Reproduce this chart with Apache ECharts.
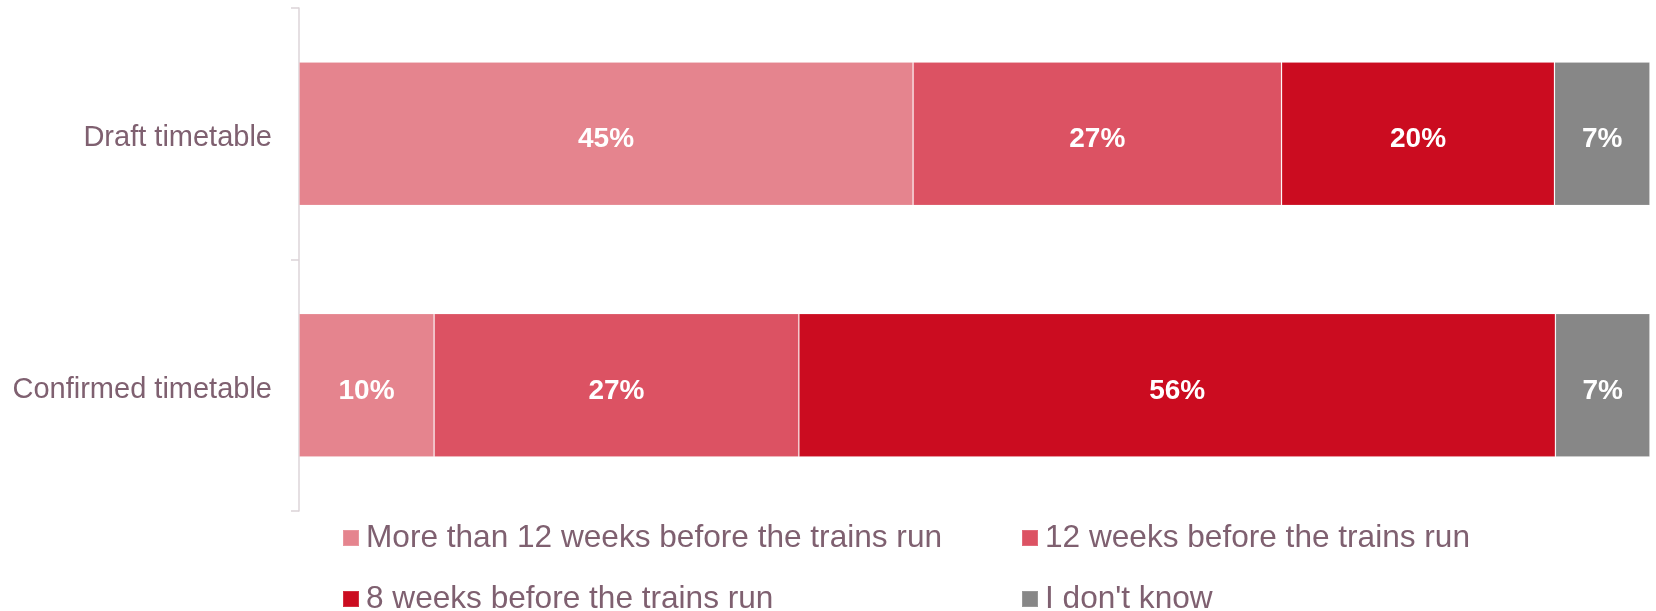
<!DOCTYPE html>
<html>
<head>
<meta charset="utf-8">
<title>Timetable notice</title>
<script src="https://cdn.jsdelivr.net/npm/echarts@6/dist/echarts.min.js"></script>
<style>
  html, body { margin: 0; padding: 0; background: #ffffff; }
  #chart { width: 1656px; height: 611px; }
</style>
</head>
<body>
<div id="chart"></div>
<script>
// Survey answers, per timetable type (percent of respondents)
const categories = ['Draft timetable', 'Confirmed timetable'];
const seriesNames = [
  'More than 12 weeks before the trains run',
  '12 weeks before the trains run',
  '8 weeks before the trains run',
  "I don't know"
];
const moreThan12Weeks = [45, 10];
const twelveWeeks = [27, 27];
const eightWeeks = [20, 56];
const dontKnow = [7, 7];

const seriesValues = [moreThan12Weeks, twelveWeeks, eightWeeks, dontKnow];
const colors = ['#E5848E', '#DC5263', '#CB0C20', '#878787'];

// 100% stacked: each row is scaled to its own total
const rowTotals = categories.map((_, i) =>
  seriesValues.reduce((sum, vals) => sum + vals[i], 0));

const textColor = '#7F6070';
const fontFamily = '"Liberation Sans", Arial, Helvetica, sans-serif';

const chart = echarts.init(document.getElementById('chart'), null, { renderer: 'canvas' });

const series = seriesNames.map((name, s) => ({
  name: name,
  type: 'bar',
  stack: 'total',
  barWidth: '57%',
  data: seriesValues[s].map((v, i) => ({ value: v / rowTotals[i] * 100, raw: v })),
  itemStyle: {
    color: colors[s],
    borderColor: 'rgba(255,255,255,0.15)',
    borderWidth: 1
  },
  label: {
    show: true,
    position: 'inside',
    offset: [0, 6],
    color: '#ffffff',
    fontFamily: fontFamily,
    fontWeight: 'bold',
    fontSize: 28,
    formatter: p => p.data.raw + '%'
  },
  emphasis: { disabled: true }
}));

// Legend laid out as a 2x2 grid: one legend block per entry
const legendSlots = [
  { left: 342, top: 522 },
  { left: 1021, top: 522 },
  { left: 342, top: 583 },
  { left: 1021, top: 583 }
];
const legends = seriesNames.map((name, s) => ({
  data: [name],
  left: legendSlots[s].left,
  top: legendSlots[s].top,
  padding: 0,
  icon: 'rect',
  itemWidth: 16,
  itemHeight: 16,
  selectedMode: false,
  textStyle: {
    color: textColor,
    fontFamily: fontFamily,
    fontSize: 31.6,
    lineHeight: 32,
    padding: [0, 0, 0, 2]
  }
}));

chart.setOption({
  animation: false,
  backgroundColor: '#ffffff',
  grid: { left: 299, right: 6, top: 8, bottom: 100, containLabel: false },
  xAxis: {
    type: 'value',
    min: 0,
    max: 100,
    show: false
  },
  yAxis: {
    type: 'category',
    data: categories,
    inverse: true,
    axisLine: { show: true, lineStyle: { color: '#DCD4D8', width: 1.5 } },
    axisTick: { show: true, length: 8, lineStyle: { color: '#DCD4D8', width: 1.5 } },
    axisLabel: {
      margin: 27,
      // a thin empty line above the name sets it slightly below the band centre
      formatter: v => '{gap|}\n{name|' + v + '}',
      rich: {
        gap: { fontSize: 1, lineHeight: 9 },
        name: {
          color: textColor,
          fontFamily: fontFamily,
          fontSize: 29,
          lineHeight: 32,
          align: 'right'
        }
      }
    },
    splitLine: { show: false }
  },
  legend: legends,
  series: series
});
</script>
</body>
</html>
